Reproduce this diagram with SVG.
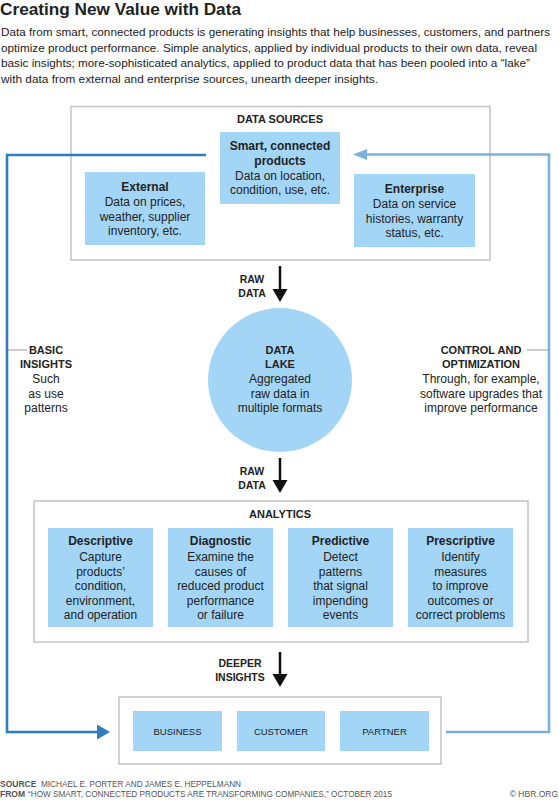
<svg xmlns="http://www.w3.org/2000/svg" width="559" height="800" viewBox="0 0 559 800">
<style>
text{font-family:"Liberation Sans",Arial,sans-serif;fill:#222}
.t{font-size:17px;font-weight:bold}
.p{font-size:11.6px}
.b{font-size:12px;font-weight:bold;text-anchor:middle}
.r{font-size:12px;text-anchor:middle}
.h{font-size:11px;font-weight:bold;text-anchor:middle}
.a{font-size:10.5px;font-weight:bold;text-anchor:middle}
.s{font-size:9.5px;text-anchor:middle}
.f{font-size:8.5px;fill:#555}
.fb{font-size:8.5px;fill:#555;font-weight:bold}
.box{fill:#fff;stroke:#c4c4c4;stroke-width:1.5}
.blue{fill:#a3d5f7}
.ar{stroke:#111;stroke-width:2.5;fill:none}
.ah{fill:#111}
.thin{stroke:#999;stroke-width:1}
</style>
<rect width="559" height="800" fill="#fff"/>
<g id="header">
<text class="t" x="0" y="15" textLength="241" lengthAdjust="spacingAndGlyphs">Creating New Value with Data</text>
<text class="p" x="1" y="35.5" textLength="549" lengthAdjust="spacingAndGlyphs" style="font-size:11.1px">Data from smart, connected products is generating insights that help businesses, customers, and partners</text>
<text class="p" x="1" y="51.5" textLength="536" lengthAdjust="spacingAndGlyphs">optimize product performance. Simple analytics, applied by individual products to their own data, reveal</text>
<text class="p" x="1" y="67.2" textLength="529" lengthAdjust="spacingAndGlyphs">basic insights; more-sophisticated analytics, applied to product data that has been pooled into a “lake”</text>
<text class="p" x="1" y="83" textLength="377" lengthAdjust="spacingAndGlyphs">with data from external and enterprise sources, unearth deeper insights.</text>
</g>
<g id="data-sources">
<rect class="box" x="71" y="106.5" width="419" height="153.5"/>
<text class="h" x="280" y="123">DATA SOURCES</text>
</g>
<g id="connectors">
<path d="M206,155 H7 V732 H98" fill="none" stroke="#2f7cc0" stroke-width="2.6"/>
<polygon points="97,724.5 110,732 97,739.5" fill="#2f7cc0"/>
<path d="M446,732 H549 V154.5 H365" fill="none" stroke="#7eb1da" stroke-width="2.6"/>
<polygon points="367,149 353,154.5 367,160" fill="#7eb1da"/>
<line class="ar" x1="280" y1="266" x2="280" y2="291"/>
<polygon class="ah" points="272.5,289 287.5,289 280,302"/>
<line class="ar" x1="280" y1="458" x2="280" y2="482"/>
<polygon class="ah" points="272.5,480 287.5,480 280,493"/>
<line class="ar" x1="280" y1="652" x2="280" y2="676"/>
<polygon class="ah" points="272.5,674 287.5,674 280,687"/>
<line class="thin" x1="8" y1="350" x2="27" y2="350"/>
<line class="thin" x1="527" y1="350" x2="548" y2="350"/>
</g>
<g id="smart-products">
<rect class="blue" x="220" y="132" width="120" height="72"/>
<text class="b" x="280" y="150">Smart, connected</text>
<text class="b" x="280" y="164.5">products</text>
<text class="r" x="280" y="179.5">Data on location,</text>
<text class="r" x="280" y="194">condition, use, etc.</text>
</g>
<g id="external">
<rect class="blue" x="85" y="172" width="120" height="73"/>
<text class="b" x="145" y="190.5">External</text>
<text class="r" x="145" y="206">Data on prices,</text>
<text class="r" x="145" y="220.5">weather, supplier</text>
<text class="r" x="145" y="235">inventory, etc.</text>
</g>
<g id="enterprise">
<rect class="blue" x="354" y="174" width="121" height="73"/>
<text class="b" x="414.5" y="192.5">Enterprise</text>
<text class="r" x="414.5" y="208">Data on service</text>
<text class="r" x="414.5" y="222.5">histories, warranty</text>
<text class="r" x="414.5" y="237">status, etc.</text>
</g>
<g id="label-raw1">
<text class="a" x="252" y="283">RAW</text>
<text class="a" x="252" y="297">DATA</text>
</g>
<g id="data-lake">
<circle cx="280" cy="380" r="72" fill="#a3d5f7"/>
<text class="h" x="280" y="354">DATA</text>
<text class="h" x="280" y="368">LAKE</text>
<text class="r" x="280" y="383">Aggregated</text>
<text class="r" x="280" y="397.5">raw data in</text>
<text class="r" x="280" y="412">multiple formats</text>
</g>
<g id="basic-insights">
<text class="h" x="46" y="354">BASIC</text>
<text class="h" x="46" y="368">INSIGHTS</text>
<text class="r" x="46" y="383">Such</text>
<text class="r" x="46" y="397.5">as use</text>
<text class="r" x="46" y="412">patterns</text>
</g>
<g id="control-optimization">
<text class="h" x="481" y="354">CONTROL AND</text>
<text class="h" x="481" y="368">OPTIMIZATION</text>
<text class="r" x="481" y="383">Through, for example,</text>
<text class="r" x="481" y="397.5">software upgrades that</text>
<text class="r" x="481" y="412">improve performance</text>
</g>
<g id="label-raw2">
<text class="a" x="252" y="475">RAW</text>
<text class="a" x="252" y="489">DATA</text>
</g>
<g id="analytics">
<rect class="box" x="34" y="501" width="494" height="141"/>
<text class="h" x="280" y="518">ANALYTICS</text>
</g>
<g id="descriptive">
<rect class="blue" x="48" y="528" width="105" height="99"/>
<text class="b" x="100.5" y="545">Descriptive</text>
<text class="r" x="100.5" y="561">Capture</text>
<text class="r" x="100.5" y="575.5">products’</text>
<text class="r" x="100.5" y="590">condition,</text>
<text class="r" x="100.5" y="604.5">environment,</text>
<text class="r" x="100.5" y="619">and operation</text>
</g>
<g id="diagnostic">
<rect class="blue" x="168" y="528" width="105" height="99"/>
<text class="b" x="220.5" y="545">Diagnostic</text>
<text class="r" x="220.5" y="561">Examine the</text>
<text class="r" x="220.5" y="575.5">causes of</text>
<text class="r" x="220.5" y="590">reduced product</text>
<text class="r" x="220.5" y="604.5">performance</text>
<text class="r" x="220.5" y="619">or failure</text>
</g>
<g id="predictive">
<rect class="blue" x="288" y="528" width="105" height="99"/>
<text class="b" x="340.5" y="545">Predictive</text>
<text class="r" x="340.5" y="561">Detect</text>
<text class="r" x="340.5" y="575.5">patterns</text>
<text class="r" x="340.5" y="590">that signal</text>
<text class="r" x="340.5" y="604.5">impending</text>
<text class="r" x="340.5" y="619">events</text>
</g>
<g id="prescriptive">
<rect class="blue" x="408" y="528" width="105" height="99"/>
<text class="b" x="460.5" y="545">Prescriptive</text>
<text class="r" x="460.5" y="561">Identify</text>
<text class="r" x="460.5" y="575.5">measures</text>
<text class="r" x="460.5" y="590">to improve</text>
<text class="r" x="460.5" y="604.5">outcomes or</text>
<text class="r" x="460.5" y="619">correct problems</text>
</g>
<g id="label-deeper">
<text class="a" x="240" y="667">DEEPER</text>
<text class="a" x="240" y="680.5">INSIGHTS</text>
</g>
<g id="stakeholders">
<rect class="box" x="119" y="697" width="322" height="67"/>
</g>
<g id="business">
<rect class="blue" x="133" y="711" width="89" height="40"/>
<text class="s" x="177.5" y="735">BUSINESS</text>
</g>
<g id="customer">
<rect class="blue" x="237" y="711" width="88" height="40"/>
<text class="s" x="281" y="735">CUSTOMER</text>
</g>
<g id="partner">
<rect class="blue" x="340" y="711" width="89" height="40"/>
<text class="s" x="384.5" y="735">PARTNER</text>
</g>
<g id="footer">
<text class="fb" x="0" y="787">SOURCE</text>
<text class="f" x="41" y="787" textLength="200" lengthAdjust="spacingAndGlyphs">MICHAEL E. PORTER AND JAMES E. HEPPELMANN</text>
<text class="fb" x="0" y="797">FROM</text>
<text class="f" x="28" y="797" textLength="364" lengthAdjust="spacingAndGlyphs">“HOW SMART, CONNECTED PRODUCTS ARE TRANSFORMING COMPANIES,” OCTOBER 2015</text>
<text class="f" x="558" y="797" text-anchor="end">© HBR.ORG</text>
</g>
</svg>
